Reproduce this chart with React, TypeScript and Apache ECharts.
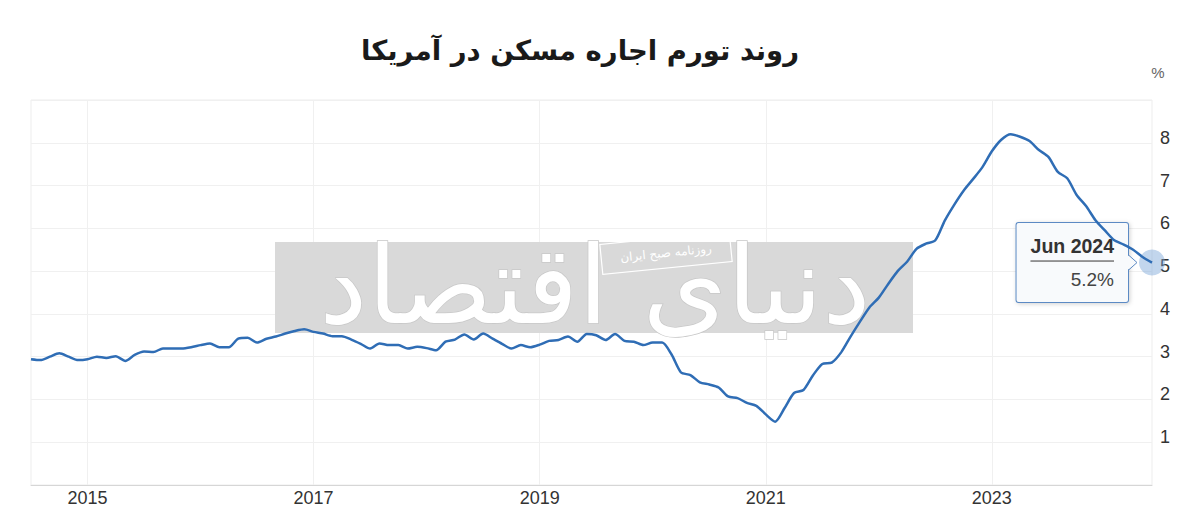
import React, { useEffect, useRef } from "react";
import * as echarts from "echarts";

// Monthly values (% y/y), Jul 2014 – Jun 2024
const v2014 = [2.94, 2.92, 3.0, 3.08, 3.0, 2.92]; // Jul–Dec
const v2015 = [2.94, 3.0, 2.97, 3.01, 2.9, 3.04, 3.12, 3.11, 3.19, 3.19, 3.19, 3.22];
const v2016 = [3.27, 3.31, 3.22, 3.22, 3.42, 3.44, 3.33, 3.42, 3.47, 3.54, 3.6, 3.64];
const v2017 = [3.58, 3.54, 3.48, 3.48, 3.4, 3.3, 3.19, 3.31, 3.27, 3.27, 3.19, 3.23];
const v2018 = [3.2, 3.15, 3.35, 3.4, 3.52, 3.4, 3.54, 3.42, 3.3, 3.19, 3.27, 3.22];
const v2019 = [3.28, 3.37, 3.39, 3.47, 3.35, 3.53, 3.5, 3.39, 3.53, 3.37, 3.35, 3.27];
const v2020 = [3.33, 3.33, 3.05, 2.63, 2.57, 2.4, 2.35, 2.28, 2.07, 2.03, 1.92, 1.85];
const v2021 = [1.65, 1.48, 1.8, 2.15, 2.22, 2.56, 2.83, 2.86, 3.1, 3.47, 3.82, 4.15];
const v2022 = [4.38, 4.7, 5.0, 5.22, 5.52, 5.64, 5.72, 6.18, 6.55, 6.88, 7.15, 7.43];
const v2023 = [7.8, 8.07, 8.2, 8.14, 8.04, 7.83, 7.67, 7.32, 7.17, 6.78, 6.52, 6.19];
const v2024 = [5.95, 5.72, 5.62, 5.5, 5.33, 5.2]; // Jan–Jun

const startYear = 2014;
const startMonth = 7;
const yearTicks = ["2015", "2017", "2019", "2021", "2023"];
const yTicks = [1, 2, 3, 4, 5, 6, 7, 8];
const monthNames = ["Jan", "Feb", "Mar", "Apr", "May", "Jun", "Jul", "Aug", "Sep", "Oct", "Nov", "Dec"];

const values: number[] = [v2014, v2015, v2016, v2017, v2018, v2019, v2020, v2021, v2022, v2023, v2024].flat();
const categories: string[] = values.map((_, i) => {
  const m = startMonth - 1 + i;
  return `${startYear + Math.floor(m / 12)}-${String((m % 12) + 1).padStart(2, "0")}`;
});

const titleText = "روند تورم اجاره مسکن در آمریکا";
const FONT = "Liberation Sans, Arial, sans-serif";
const LINE_COLOR = "#2f6db5";

const isYearTick = (_: number, v: string) => v.endsWith("-01") && yearTicks.includes(v.slice(0, 4));

export default function App() {
  const ref = useRef<HTMLDivElement>(null);
  useEffect(() => {
    if (!ref.current) return;
    const chart = echarts.init(ref.current, undefined, { renderer: "svg" });
    const lastIdx = values.length - 1;
    const lastCat = categories[lastIdx];
    const lastVal = values[lastIdx];
    const [ly, lm] = lastCat.split("-");
    const lastLabel = `${monthNames[Number(lm) - 1]} ${ly}`;

    chart.setOption({
      animation: false,
      backgroundColor: "#ffffff",
      grid: { left: 31, right: 48, top: 100, bottom: 40, show: true, borderColor: "#ededed", borderWidth: 1 },
      xAxis: {
        type: "category",
        data: categories,
        boundaryGap: false,
        axisLine: { lineStyle: { color: "#d6d6d6" } },
        axisTick: { show: false },
        axisLabel: {
          interval: isYearTick,
          formatter: (v: string) => v.slice(0, 4),
          color: "#333",
          fontSize: 18,
          fontFamily: FONT,
          margin: 4,
        },
        splitLine: { show: true, interval: isYearTick, lineStyle: { color: "#f0f0f0" } },
      },
      yAxis: {
        type: "value",
        position: "right",
        min: 0,
        max: 9,
        interval: 1,
        axisLine: { show: false },
        axisTick: { show: false },
        axisLabel: {
          color: "#333",
          fontSize: 18,
          fontFamily: FONT,
          margin: 8,
          verticalAlign: "bottom",
          lineHeight: 10,
          formatter: (v: number) => (yTicks.includes(v) ? String(v) : ""),
        },
        splitLine: { lineStyle: { color: "#f0f0f0" } },
      },
      series: [
        {
          type: "line",
          data: values,
          smooth: 0.25,
          showSymbol: false,
          z: 5,
          lineStyle: { color: LINE_COLOR, width: 2.5 },
          markPoint: {
            silent: true,
            symbol: "circle",
            symbolSize: 26,
            itemStyle: { color: "rgba(120,165,215,0.45)" },
            data: [{ coord: [lastCat, lastVal], value: lastVal }],
            label: {
              show: true,
              position: "left",
              distance: 11,
              backgroundColor: "#f8fafc",
              borderColor: "#5b8ac4",
              borderWidth: 1,
              borderRadius: 2,
              padding: [11, 14, 9, 14],
              shadowColor: "rgba(0,0,0,0.18)",
              shadowBlur: 4,
              shadowOffsetX: 1,
              shadowOffsetY: 1,
              formatter: () => `{t|${lastLabel}}\n{hr|}\n{v|${lastVal}%}`,
              rich: {
                t: { fontFamily: FONT, fontWeight: "bold", fontSize: 19.5, color: "#333", lineHeight: 23, align: "center" },
                hr: { borderColor: "#777", width: "100%", borderWidth: 1, height: 0, lineHeight: 8 },
                v: { fontFamily: FONT, fontSize: 19, color: "#444", lineHeight: 28, align: "right" },
              },
            },
          },
        },
      ],
    });

    const [px, py] = chart.convertToPixel({ seriesIndex: 0 }, [lastCat, lastVal]) as number[];
    const bx = px - 13 - 11;

    chart.setOption({
      graphic: [
        {
          type: "rect",
          z: 0,
          silent: true,
          shape: { x: 275, y: 242, width: 638, height: 91 },
          style: { fill: "#d9d9d9" },
        },
        {
          type: "text",
          z: 1,
          silent: true,
          x: 595,
          y: 285,
          style: {
            text: "دنیای اقتصاد",
            fontFamily: "DejaVu Sans",
            fontWeight: "normal",
            fontSize: 108,
            fill: "#ffffff",
            stroke: "#c8c8c8",
            lineWidth: 1.5,
            textAlign: "center",
            textVerticalAlign: "middle",
          },
        },
        {
          type: "group",
          x: 666,
          y: 253,
          rotation: 0.1,
          z: 2,
          silent: true,
          children: [
            {
              type: "rect",
              shape: { x: -65, y: -15, width: 130, height: 30 },
              style: { fill: "rgba(0,0,0,0)", stroke: "#ffffff", lineWidth: 1.2 },
            },
            {
              type: "text",
              x: 0,
              y: 0,
              style: {
                text: "روزنامه صبح ایران",
                fontFamily: "DejaVu Sans",
                fontSize: 12,
                fill: "#ffffff",
                textAlign: "center",
                textVerticalAlign: "middle",
              },
            },
          ],
        },
        {
          type: "text",
          z: 10,
          x: 580,
          y: 50,
          style: {
            text: titleText,
            fontFamily: "DejaVu Sans",
            fontWeight: "bold",
            fontSize: 27.5,
            fill: "#1a1a1a",
            textAlign: "center",
            textVerticalAlign: "middle",
          },
        },
        {
          type: "text",
          z: 10,
          x: 1158,
          y: 72,
          style: { text: "%", fontFamily: FONT, fontSize: 15, fill: "#666", textAlign: "center", textVerticalAlign: "middle" },
        },
        {
          type: "polygon",
          z: 100,
          silent: true,
          shape: { points: [[bx - 1, py - 8], [bx + 9, py], [bx - 1, py + 8]] },
          style: { fill: "#f8fafc", stroke: "none" },
        },
        {
          type: "polyline",
          z: 101,
          silent: true,
          shape: { points: [[bx, py - 8], [bx + 9, py], [bx, py + 8]] },
          style: { stroke: "#5b8ac4", lineWidth: 1, fill: "none" },
        },
      ],
    });

    return () => chart.dispose();
  }, []);

  return (
    <div
      ref={ref}
      style={{ position: "fixed", left: 0, top: 0, width: 1200, height: 525, background: "#fff" }}
    />
  );
}
